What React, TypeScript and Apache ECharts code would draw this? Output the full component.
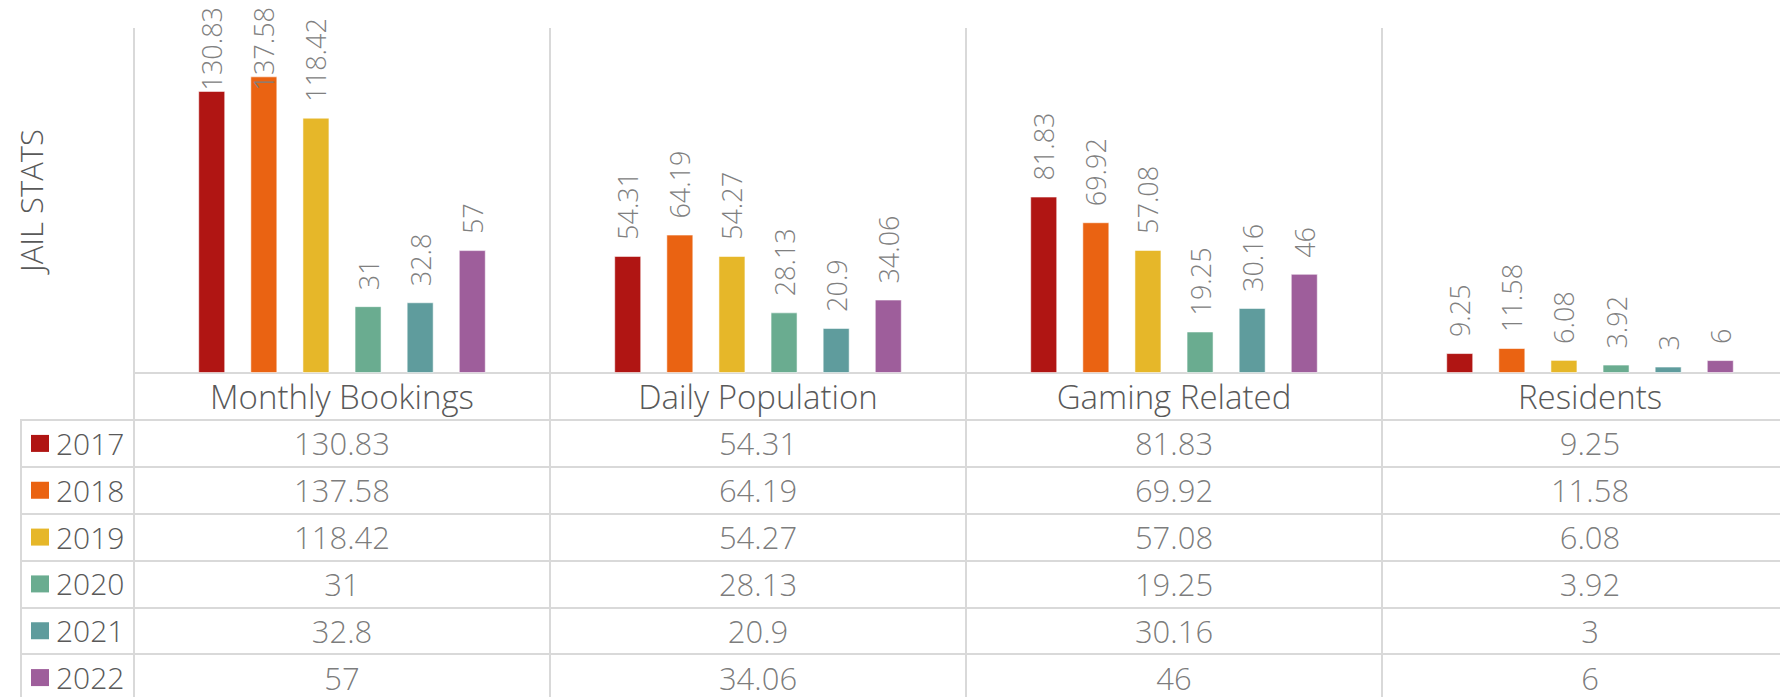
import React, { useEffect, useRef } from "react";
import * as echarts from "echarts";

const categories = ["Monthly Bookings", "Daily Population", "Gaming Related", "Residents"];
const years = ["2017", "2018", "2019", "2020", "2021", "2022"];
const colors = ["#B01513", "#EA6312", "#E6B729", "#6AAC90", "#5F9C9D", "#9E5E9B"];

const v2017 = [130.83, 54.31, 81.83, 9.25];
const v2018 = [137.58, 64.19, 69.92, 11.58];
const v2019 = [118.42, 54.27, 57.08, 6.08];
const v2020 = [31, 28.13, 19.25, 3.92];
const v2021 = [32.8, 20.9, 30.16, 3];
const v2022 = [57, 34.06, 46, 6];

const seriesValues = [v2017, v2018, v2019, v2020, v2021, v2022];
const axisTitle = "JAIL STATS";

const FONT = "'Open Sans', 'Noto Sans', sans-serif";
const LINE = "#d9d9d9";
const TEXT = "#595959";
const LABEL_DIST = 16;
const TOP_LIMIT = 7;

export default function App() {
  const ref = useRef<HTMLDivElement>(null);

  useEffect(() => {
    if (!ref.current) return;
    const chart = echarts.init(ref.current, undefined, { renderer: "svg" });

    const barSeries = years.map((y, i) => ({
      name: y,
      type: "bar",
      xAxisIndex: 0,
      yAxisIndex: 0,
      data: seriesValues[i],
      barWidth: 27,
      barGap: "93%",
      itemStyle: { color: colors[i], borderColor: "rgba(255,255,255,0.55)", borderWidth: 1 },
      label: {
        show: true,
        position: "top",
        rotate: 90,
        align: "left",
        verticalAlign: "middle",
        distance: LABEL_DIST,
        fontSize: 27,
        fontFamily: FONT,
        fontWeight: 300,
        color: "#808080",
      },
      labelLayout: (params: any) => {
        const r = params.labelRect;
        const bar = params.rect;
        if (!r || !bar) return {};
        const len = Math.max(r.width, r.height);
        const anchorY = bar.y - LABEL_DIST;
        if (anchorY - len < TOP_LIMIT) {
          return { y: TOP_LIMIT + len };
        }
        return {};
      },
      silent: true,
    }));

    const tableData: any[] = [];
    years.forEach((y, i) => {
      categories.forEach((c, j) => {
        tableData.push([j, i, seriesValues[i][j]]);
      });
    });

    const rich: any = {
      y: {
        fontSize: 30,
        lineHeight: 28,
        fontFamily: FONT,
        fontWeight: 300,
        color: TEXT,
        padding: [0, 0, 0, 7],
      },
    };
    colors.forEach((c, i) => {
      rich["m" + i] = { width: 18, height: 17, backgroundColor: c };
    });

    chart.setOption({
      animation: false,
      backgroundColor: "#ffffff",
      textStyle: { fontFamily: FONT },
      grid: [
        { left: 134, top: 28, width: 1664, height: 345, outerBoundsMode: "none", containLabel: false },
        { left: 134, top: 420, width: 1664, height: 281, outerBoundsMode: "none", containLabel: false },
      ],
      xAxis: [
        {
          gridIndex: 0,
          type: "category",
          data: categories,
          axisLine: { show: true, lineStyle: { color: LINE, width: 2 } },
          axisTick: { show: true, length: 47, lineStyle: { color: LINE, width: 2 } },
          axisLabel: {
            fontSize: 33,
            fontFamily: FONT,
            fontWeight: 300,
            color: TEXT,
            margin: 7,
            lineHeight: 33,
          },
          splitLine: { show: true, lineStyle: { color: LINE, width: 2 } },
        },
        {
          gridIndex: 1,
          type: "category",
          data: categories,
          position: "top",
          axisLine: { show: true, lineStyle: { color: LINE, width: 2 } },
          axisTick: { show: false },
          axisLabel: { show: false },
          splitLine: { show: true, lineStyle: { color: LINE, width: 2 } },
        },
      ],
      yAxis: [
        {
          gridIndex: 0,
          type: "value",
          min: 0,
          max: 160,
          name: axisTitle,
          nameLocation: "middle",
          nameRotate: 90,
          nameGap: 88,
          nameTextStyle: { fontSize: 31, fontFamily: FONT, fontWeight: 300, color: TEXT },
          axisLine: { show: false },
          axisTick: { show: false },
          axisLabel: { show: false },
          splitLine: { show: false },
        },
        {
          gridIndex: 1,
          type: "category",
          data: years,
          inverse: true,
          axisLine: { show: true, lineStyle: { color: LINE, width: 2 } },
          axisTick: { show: true, length: 113, lineStyle: { color: LINE, width: 2 } },
          axisLabel: {
            align: "left",
            margin: 103,
            formatter: (v: string, i: number) => `{m${i}|}{y|${v}}`,
            rich,
          },
          splitLine: { show: true, lineStyle: { color: LINE, width: 2 } },
        },
      ],
      graphic: [
        {
          type: "line",
          shape: { x1: 21, y1: 419, x2: 21, y2: 697 },
          style: { stroke: LINE, lineWidth: 2 },
          silent: true,
        },
      ],
      series: [
        ...barSeries,
        {
          name: "table",
          type: "scatter",
          xAxisIndex: 1,
          yAxisIndex: 1,
          data: tableData,
          symbol: "circle",
          symbolSize: 1,
          itemStyle: { color: "rgba(0,0,0,0)" },
          label: {
            show: true,
            position: "inside",
            formatter: (p: any) => String(p.value[2]),
            fontSize: 31,
            lineHeight: 28,
            fontFamily: FONT,
            fontWeight: 300,
            color: TEXT,
          },
          silent: true,
        },
      ],
    });

    return () => chart.dispose();
  }, []);

  return (
    <div
      ref={ref}
      style={{ position: "fixed", left: 0, top: 0, width: 1780, height: 697, background: "#fff" }}
    />
  );
}
